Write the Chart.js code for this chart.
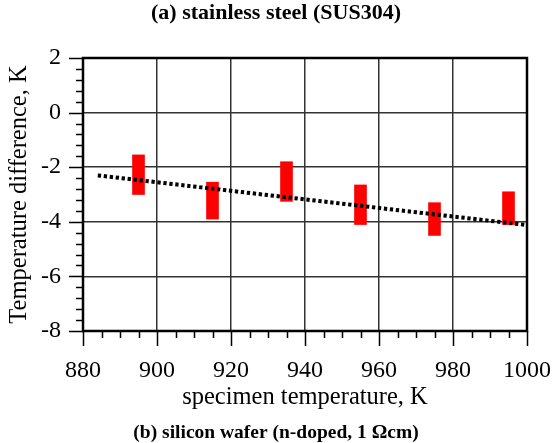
<!DOCTYPE html>
<html>
<head>
<meta charset="utf-8">
<script src="https://cdn.jsdelivr.net/npm/chart.js@4/dist/chart.umd.min.js"></script>
<style>
  html, body { margin: 0; padding: 0; background: #fff; }
  #wrap { width: 552px; height: 443px; }
</style>
</head>
<body>
<div id="wrap"><canvas id="c" width="552" height="443"></canvas></div>
<script>
// ---- data ----
const temperatures = [895, 915, 935, 955, 975, 995];
const diffLow  = [-3.00, -3.90, -3.25, -4.10, -4.50, -4.10];
const diffHigh = [-1.55, -2.55, -1.80, -2.65, -3.30, -2.90];
const fitX = [884, 1000];
const fitY = [-2.30, -4.12];
const xTicks = [880, 900, 920, 940, 960, 980, 1000];
const yTicks = [-8, -6, -4, -2, 0, 2];
const xMinorStep = 5;
const yMinorStep = 0.4;

const FONT = "'Liberation Serif', 'Times New Roman', serif";
Chart.defaults.font.family = FONT;
Chart.defaults.color = '#000';

const tickPlugin = {
  id: 'ticksAndFrame',
  afterDraw(chart) {
    const ctx = chart.ctx;
    const a = chart.chartArea;
    const xs = chart.scales.x, ys = chart.scales.y;
    ctx.save();
    ctx.strokeStyle = '#000';
    ctx.lineWidth = 1.5;
    ctx.beginPath();
    for (let v = xTicks[0]; v <= xTicks[xTicks.length - 1] + 1e-9; v += xMinorStep) {
      const px = Math.round(xs.getPixelForValue(v)) + 0.5;
      const major = xTicks.includes(v);
      ctx.moveTo(px, a.bottom);
      ctx.lineTo(px, a.bottom + (major ? 15 : 7));
    }
    const y0 = yTicks[0], y1 = yTicks[yTicks.length - 1];
    const n = Math.round((y1 - y0) / yMinorStep);
    for (let i = 0; i <= n; i++) {
      const v = y0 + i * yMinorStep;
      const py = Math.round(ys.getPixelForValue(v)) + 0.5;
      ctx.moveTo(a.left, py);
      ctx.lineTo(a.left - 7, py);
    }
    yTicks.forEach(v => {
      const py = Math.round(ys.getPixelForValue(v)) + 0.5;
      ctx.moveTo(a.left, py);
      ctx.lineTo(a.left - 14, py);
    });
    ctx.stroke();
    ctx.lineWidth = 2.5;
    ctx.strokeRect(a.left, a.top, a.right - a.left, a.bottom - a.top);
    ctx.restore();
  }
};

new Chart(document.getElementById('c'), {
  data: {
    datasets: [
      {
        type: 'line',
        order: 0,
        data: fitX.map((x, i) => ({ x, y: fitY[i] })),
        borderColor: '#000',
        borderWidth: 4,
        borderDash: [3.3, 2.7],
        borderCapStyle: 'butt',
        pointRadius: 0,
        fill: false,
        tension: 0
      },
      {
        type: 'bar',
        order: 1,
        data: temperatures.map((x, i) => ({ x, y: [diffLow[i], diffHigh[i]] })),
        backgroundColor: '#ff0000',
        borderWidth: 0,
        barThickness: 12
      }
    ]
  },
  options: {
    responsive: false,
    animation: false,
    layout: { padding: 0 },
    plugins: {
      legend: { display: false },
      tooltip: { enabled: false },
      title: {
        display: true,
        text: '(a) stainless steel (SUS304)',
        color: '#000',
        font: { family: FONT, size: 22, weight: 'bold', lineHeight: 1.0 },
        padding: { top: 2.5, bottom: 33.5 }
      },
      subtitle: {
        display: true,
        position: 'bottom',
        text: '(b) silicon wafer (n-doped, 1 \u03A9cm)',
        color: '#000',
        font: { family: FONT, size: 19.5, weight: 'bold', lineHeight: 1.0 },
        padding: { top: 0, bottom: 0 }
      }
    },
    scales: {
      x: {
        type: 'linear',
        min: 880, max: 1000,
        offset: false,
        afterBuildTicks: s => { s.ticks = xTicks.map(v => ({ value: v })); },
        afterFit: s => { s.height = 92.5; s.paddingRight = 25; s.paddingLeft = 20; },
        grid: { display: true, offset: false, color: '#333', lineWidth: 1.5, drawTicks: false },
        border: { display: false },
        ticks: {
          color: '#000', padding: 25, maxRotation: 0, autoSkip: false,
          font: { family: FONT, size: 24 },
          callback: v => String(v)
        },
        title: {
          display: true, text: 'specimen temperature, K', color: '#000',
          font: { family: FONT, size: 24.5 }, padding: { top: 0, bottom: 11 }
        }
      },
      y: {
        type: 'linear',
        min: -8, max: 2,
        afterBuildTicks: s => { s.ticks = yTicks.map(v => ({ value: v })); },
        afterFit: s => { s.width = 83; },
        grid: { display: true, color: '#333', lineWidth: 1.5, drawTicks: false },
        border: { display: false },
        ticks: {
          color: '#000', padding: 22,
          font: { family: FONT, size: 24 },
          callback: v => String(v)
        },
        title: {
          display: true, text: 'Temperature difference, K', color: '#000',
          font: { family: FONT, size: 24.5 }, padding: { top: 5, bottom: 0 }
        }
      }
    }
  },
  plugins: [tickPlugin]
});
</script>
</body>
</html>
